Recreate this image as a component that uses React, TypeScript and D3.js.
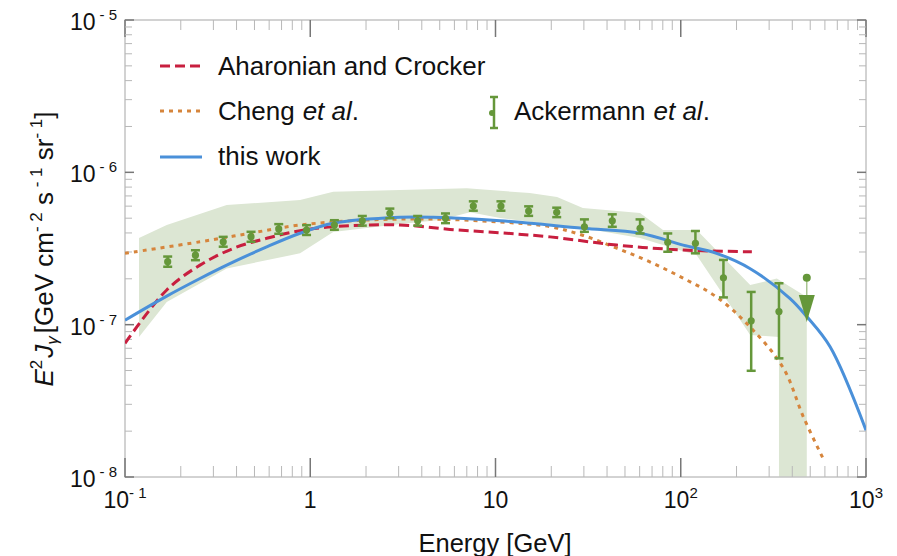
import React from 'react';
import * as d3 from 'd3';

// Axis ticks
const xMajor = [0.1, 1, 10, 100, 1000];
const xTickBase = ['10', '1', '10', '10', '10'];
const xTickExp = ['- 1', '', '', '2', '3'];
const yMajor = [1e-8, 1e-7, 1e-6, 1e-5];
const yTickBase = ['10', '10', '10', '10'];
const yTickExp = ['- 8', '- 7', '- 6', '- 5'];

// Ackermann et al. data points (GeV, GeV cm^-2 s^-1 sr^-1)
const ackE = [0.17, 0.24, 0.339, 0.479, 0.676, 0.955, 1.35, 1.91, 2.69, 3.8, 5.37, 7.59, 10.7, 15.1, 21.4, 30.2, 42.7, 60.3, 85.1, 120, 170, 240, 339];
const ackVal = [2.59e-7, 2.86e-7, 3.5e-7, 3.78e-7, 4.25e-7, 4.18e-7, 4.51e-7, 4.81e-7, 5.38e-7, 4.81e-7, 4.99e-7, 6.01e-7, 6.01e-7, 5.57e-7, 5.46e-7, 4.39e-7, 4.81e-7, 4.29e-7, 3.47e-7, 3.42e-7, 2.03e-7, 1.06e-7, 1.22e-7];
const ackLo = [2.4e-7, 2.65e-7, 3.25e-7, 3.5e-7, 3.95e-7, 3.88e-7, 4.2e-7, 4.47e-7, 5.0e-7, 4.47e-7, 4.64e-7, 5.6e-7, 5.6e-7, 5.18e-7, 5.08e-7, 4.07e-7, 4.39e-7, 3.97e-7, 3.01e-7, 2.94e-7, 1.51e-7, 4.98e-8, 6.01e-8];
const ackHi = [2.8e-7, 3.08e-7, 3.77e-7, 4.07e-7, 4.57e-7, 4.5e-7, 4.85e-7, 5.17e-7, 5.78e-7, 5.17e-7, 5.37e-7, 6.45e-7, 6.45e-7, 5.98e-7, 5.86e-7, 4.91e-7, 5.3e-7, 4.91e-7, 3.97e-7, 4.12e-7, 2.66e-7, 1.64e-7, 1.87e-7];
// Upper limit
const ulE = [479];
const ulVal = [2.03e-7];
const ulTip = [1.04e-7];

// Systematic band (upper edge left->right, lower edge right->left)
const bandUpE = [0.119, 0.168, 0.354, 0.881, 1.33, 3.05, 7.0, 15.3, 21.5, 29.6, 60.3, 80.2, 122, 237, 330, 479, 479];
const bandUpVal = [3.71e-7, 4.51e-7, 6.1e-7, 6.58e-7, 7.46e-7, 7.65e-7, 7.85e-7, 7.31e-7, 6.89e-7, 5.83e-7, 5.41e-7, 4.18e-7, 4.18e-7, 1.82e-7, 2.01e-7, 1.52e-7, 1e-8];
const bandLoE = [339, 339, 237, 122, 60.3, 29.6, 10.6, 7.28, 5.01, 3.05, 1.33, 0.881, 0.354, 0.168, 0.119];
const bandLoVal = [1e-8, 8.3e-8, 8.55e-8, 2.86e-7, 3.71e-7, 4.31e-7, 5.01e-7, 5.48e-7, 4.86e-7, 4.58e-7, 4.06e-7, 2.94e-7, 2.34e-7, 1.41e-7, 8.3e-8];

// Model curves
const blueE = [0.1, 0.168, 0.254, 0.354, 0.582, 0.881, 1.33, 3.05, 4.6, 10.6, 29.6, 60.3, 103, 156, 236, 388, 479, 640, 1000];
const blueVal = [1.07e-7, 1.54e-7, 2.01e-7, 2.46e-7, 3.24e-7, 3.98e-7, 4.63e-7, 5.07e-7, 5.07e-7, 4.81e-7, 4.29e-7, 3.98e-7, 3.33e-7, 2.94e-7, 2.34e-7, 1.49e-7, 1.13e-7, 7.16e-8, 2.03e-8];
const redE = [0.1, 0.168, 0.254, 0.385, 0.582, 0.881, 1.33, 3.05, 5.68, 10.6, 19.7, 45.1, 103, 242];
const redVal = [7.54e-8, 1.69e-7, 2.46e-7, 3.17e-7, 3.69e-7, 4.14e-7, 4.4e-7, 4.51e-7, 4.22e-7, 4.01e-7, 3.77e-7, 3.33e-7, 3.09e-7, 3.01e-7];
const orangeE = [0.1, 0.254, 0.473, 0.881, 2.02, 4.61, 10.6, 19.7, 29.8, 45.1, 68.2, 103, 156, 237, 358, 459, 587];
const orangeVal = [2.94e-7, 3.5e-7, 3.98e-7, 4.51e-7, 4.86e-7, 4.93e-7, 4.72e-7, 4.4e-7, 3.85e-7, 3.18e-7, 2.58e-7, 2.02e-7, 1.52e-7, 9.64e-8, 5.19e-8, 2.48e-8, 1.32e-8];

const legendLabels = ['Aharonian and Crocker', 'Cheng', 'this work'];

const C = {
  red: '#c81f3f',
  orange: '#d6853c',
  blue: '#4a90d9',
  green: '#65973a',
  band: '#dce6d3',
  frame: '#c4c4c4',
  minor: '#b8b8b8',
  major: '#777777',
};

const FONT = '"Liberation Sans", Arial, Helvetica, sans-serif';

export default function App() {
  const L = 125, R = 866, T = 20, B = 477;
  const x = d3.scaleLog().domain([0.1, 1000]).range([L, R]);
  const y = d3.scaleLog().domain([1e-8, 1e-5]).range([B, T]);

  const smooth = d3
    .line<[number, number]>()
    .x((d) => x(d[0]))
    .y((d) => y(d[1]))
    .curve(d3.curveCatmullRom.alpha(0.5));
  const poly = d3
    .line<[number, number]>()
    .x((d) => x(d[0]))
    .y((d) => y(d[1]))
    .curve(d3.curveLinearClosed);

  const zip = (a: number[], b: number[]) => a.map((v, i) => [v, b[i]] as [number, number]);
  const bandPts = [...zip(bandUpE, bandUpVal), ...zip(bandLoE, bandLoVal)];

  const xMinor: number[] = [];
  [0.1, 1, 10, 100].forEach((d) => {
    for (let k = 2; k <= 9; k++) xMinor.push(d * k);
  });
  const yMinor: number[] = [];
  [1e-8, 1e-7, 1e-6].forEach((d) => {
    for (let k = 2; k <= 9; k++) yMinor.push(d * k);
  });

  const capW = 4.5;

  return (
    <svg
      width={897}
      height={556}
      style={{ position: 'absolute', left: 0, top: 0, background: '#fff' }}
      fontFamily={FONT}
    >
      <defs>
        <clipPath id="plotArea">
          <rect x={L} y={T} width={R - L} height={B - T} />
        </clipPath>
      </defs>
      <rect x={0} y={0} width={897} height={556} fill="#fff" />

      {/* band */}
      <g clipPath="url(#plotArea)">
        <path d={poly(bandPts) || ''} fill={C.band} stroke="none" />
      </g>

      {/* frame */}
      <rect x={L} y={T} width={R - L} height={B - T} fill="none" stroke={C.frame} strokeWidth={1.5} />

      {/* x ticks (bottom and top) */}
      {xMinor.map((v, i) => (
        <g key={'xm' + i} stroke={C.minor} strokeWidth={1}>
          <line x1={x(v)} x2={x(v)} y1={B} y2={B - 11} />
          <line x1={x(v)} x2={x(v)} y1={T} y2={T + 10} />
        </g>
      ))}
      {xMajor.map((v, i) => (
        <g key={'xM' + i} stroke={C.major} strokeWidth={1.5}>
          <line x1={x(v)} x2={x(v)} y1={B} y2={B - 19} />
          <line x1={x(v)} x2={x(v)} y1={T} y2={T + 17} />
        </g>
      ))}
      {/* y ticks (left and right) */}
      {yMinor.map((v, i) => (
        <g key={'ym' + i} stroke={C.minor} strokeWidth={1}>
          <line x1={L} x2={L + 7} y1={y(v)} y2={y(v)} />
          <line x1={R} x2={R - 7} y1={y(v)} y2={y(v)} />
        </g>
      ))}
      {yMajor.map((v, i) => (
        <g key={'yM' + i} stroke={C.major} strokeWidth={1.5}>
          <line x1={L} x2={L + 9} y1={y(v)} y2={y(v)} />
          <line x1={R} x2={R - 9} y1={y(v)} y2={y(v)} />
        </g>
      ))}

      {/* x tick labels */}
      {xMajor.map((v, i) => (
        <text key={'xl' + i} x={x(v)} y={508} textAnchor="middle" fontSize={23} fill="#111">
          <tspan>{xTickBase[i]}</tspan>
          {xTickExp[i] && (
            <tspan dy={-10} fontSize={15}>
              {xTickExp[i]}
            </tspan>
          )}
        </text>
      ))}
      {/* y tick labels */}
      {yMajor.map((v, i) => (
        <text key={'yl' + i} x={117} y={y(v) + 10} textAnchor="end" fontSize={23} fill="#111">
          <tspan>{yTickBase[i]}</tspan>
          <tspan dy={-10} dx={4} fontSize={15}>
            {yTickExp[i]}
          </tspan>
        </text>
      ))}

      {/* axis titles */}
      <text x={495} y={552} textAnchor="middle" fontSize={25.5} fill="#111">
        Energy [GeV]
      </text>
      <text transform="translate(53,249) rotate(-90)" textAnchor="middle" fontSize={26} fill="#111">
        <tspan fontStyle="italic">E</tspan>
        <tspan dy={-11} fontSize={17}>2</tspan>
        <tspan dy={11} dx={2} fontStyle="italic">J</tspan>
        <tspan dy={5} fontSize={17} fontStyle="italic">γ</tspan>
        <tspan dy={-5} dx={3}>[GeV cm</tspan>
        <tspan dy={-11} fontSize={17}>- 2</tspan>
        <tspan dy={11}> s</tspan>
        <tspan dy={-11} fontSize={17}> - 1</tspan>
        <tspan dy={11}> sr</tspan>
        <tspan dy={-11} fontSize={17}>- 1</tspan>
        <tspan dy={11}>]</tspan>
      </text>

      {/* model curves */}
      <g clipPath="url(#plotArea)" fill="none" strokeWidth={3}>
        <path d={smooth(zip(orangeE, orangeVal)) || ''} stroke={C.orange} strokeDasharray="4 5" />
        <path d={smooth(zip(redE, redVal)) || ''} stroke={C.red} strokeDasharray="10 5" />
        <path d={smooth(zip(blueE, blueVal)) || ''} stroke={C.blue} />
      </g>

      {/* data points */}
      <g>
        {ackE.map((e, i) => {
          const cx = x(e);
          return (
            <g key={'pt' + i} stroke={C.green} strokeWidth={2.5}>
              <line x1={cx} x2={cx} y1={y(ackLo[i])} y2={y(ackHi[i])} />
              <line x1={cx - capW} x2={cx + capW} y1={y(ackLo[i])} y2={y(ackLo[i])} />
              <line x1={cx - capW} x2={cx + capW} y1={y(ackHi[i])} y2={y(ackHi[i])} />
              <circle cx={cx} cy={y(ackVal[i])} r={3.6} fill={C.green} stroke="none" />
            </g>
          );
        })}
        {ulE.map((e, i) => {
          const cx = x(e);
          const top = y(ulVal[i]);
          const tip = y(ulTip[i]);
          const headLen = 27;
          return (
            <g key={'ul' + i}>
              <line x1={cx} x2={cx} y1={top} y2={tip - headLen + 2} stroke="#9dbd82" strokeWidth={1.3} />
              <path
                d={`M${cx - 8},${tip - headLen} L${cx + 8},${tip - headLen} L${cx},${tip} Z`}
                fill={C.green}
              />
              <circle cx={cx} cy={top} r={4} fill={C.green} />
            </g>
          );
        })}
      </g>

      {/* legend */}
      <g fontSize={26} fill="#111">
        <line x1={160} x2={202} y1={66} y2={66} stroke={C.red} strokeWidth={3} strokeDasharray="10 5" />
        <text x={218} y={75}>{legendLabels[0]}</text>
        <line x1={160} x2={202} y1={111} y2={111} stroke={C.orange} strokeWidth={3} strokeDasharray="4 5" />
        <text x={218} y={120}>
          {legendLabels[1]}
          <tspan dx={8} fontStyle="italic">et al</tspan>.
        </text>
        <line x1={160} x2={202} y1={157} y2={157} stroke={C.blue} strokeWidth={3} />
        <text x={218} y={165}>{legendLabels[2]}</text>

        <g stroke={C.green} strokeWidth={2.5}>
          <line x1={494} x2={494} y1={97} y2={128} />
          <line x1={490} x2={498} y1={97} y2={97} />
          <line x1={490} x2={498} y1={128} y2={128} />
          <circle cx={492} cy={113} r={3} fill={C.green} stroke="none" />
        </g>
        <text x={514} y={120}>
          Ackermann
          <tspan dx={8} fontStyle="italic">et al</tspan>.
        </text>
      </g>
    </svg>
  );
}
